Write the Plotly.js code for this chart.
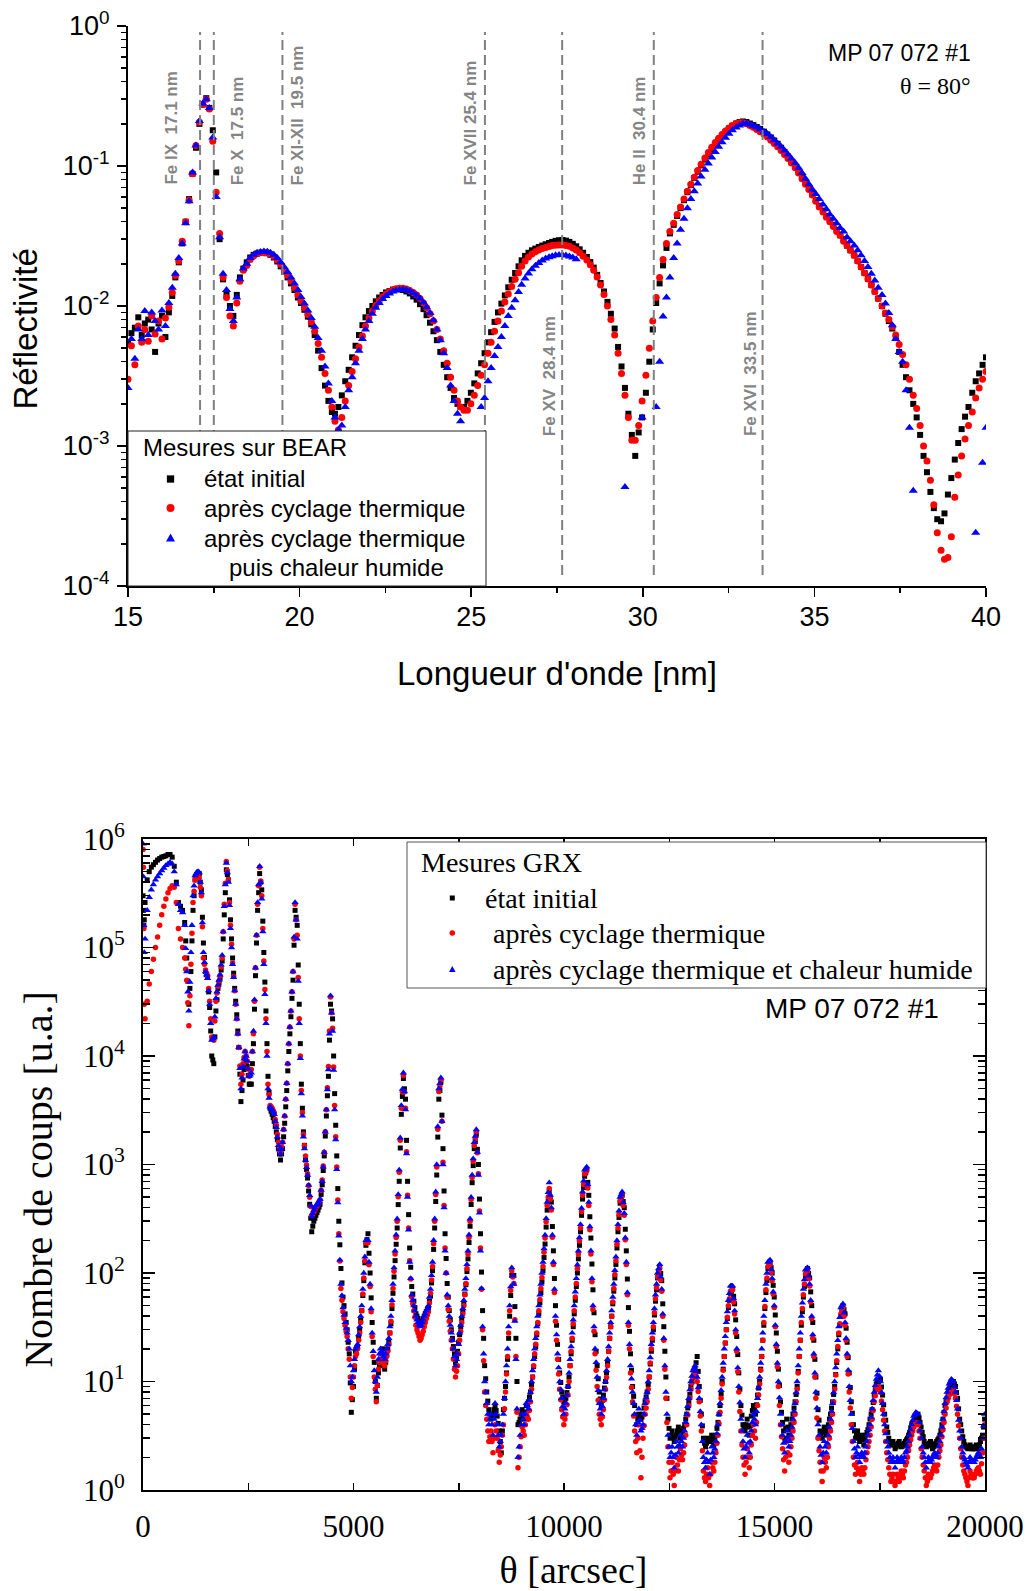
<!DOCTYPE html>
<html><head><meta charset="utf-8">
<script src="https://cdn.plot.ly/plotly-3.0.1.min.js"></script>
<style>html,body{margin:0;padding:0;background:#fff;}#chart{width:1034px;height:1591px;}</style>
</head><body><div id="chart"></div>
<script>
// ---------- Top chart: BEAR reflectivity (wavelength in nm) ----------
const wavelength = [
15.00,15.10,15.20,15.30,15.40,15.49,15.59,15.69,15.79,15.89,
15.99,16.09,16.19,16.29,16.38,16.48,16.58,16.68,16.78,16.88,
16.98,17.08,17.18,17.28,17.37,17.47,17.57,17.67,17.77,17.87,
17.97,18.07,18.17,18.26,18.36,18.46,18.56,18.66,18.76,18.86,
18.96,19.06,19.15,19.25,19.35,19.45,19.55,19.65,19.75,19.85,
19.95,20.04,20.14,20.24,20.34,20.44,20.54,20.64,20.74,20.84,
20.94,21.03,21.13,21.23,21.33,21.43,21.53,21.63,21.73,21.83,
21.92,22.02,22.12,22.22,22.32,22.42,22.52,22.62,22.72,22.81,
22.91,23.01,23.11,23.21,23.31,23.41,23.51,23.61,23.70,23.80,
23.90,24.00,24.10,24.20,24.30,24.40,24.50,24.60,24.69,24.79,
24.89,24.99,25.09,25.19,25.29,25.39,25.49,25.58,25.68,25.78,
25.88,25.98,26.08,26.18,26.28,26.38,26.47,26.57,26.67,26.77,
26.87,26.97,27.07,27.17,27.27,27.36,27.46,27.56,27.66,27.76,
27.86,27.96,28.06,28.16,28.26,28.37,28.47,28.57,28.67,28.77,
28.87,28.97,29.07,29.18,29.28,29.38,29.48,29.58,29.68,29.78,
29.88,29.98,30.09,30.19,30.29,30.39,30.49,30.59,30.69,30.79,
30.90,31.00,31.10,31.20,31.30,31.40,31.50,31.60,31.70,31.81,
31.91,32.01,32.11,32.21,32.31,32.41,32.51,32.61,32.72,32.82,
32.92,33.02,33.12,33.22,33.32,33.42,33.53,33.63,33.73,33.83,
33.93,34.03,34.13,34.23,34.33,34.44,34.54,34.64,34.74,34.84,
34.94,35.04,35.14,35.25,35.35,35.45,35.55,35.65,35.75,35.85,
35.95,36.05,36.16,36.26,36.36,36.46,36.56,36.66,36.76,36.86,
36.97,37.07,37.17,37.27,37.37,37.47,37.57,37.67,37.77,37.88,
37.98,38.08,38.18,38.28,38.38,38.48,38.58,38.69,38.79,38.89,
38.99,39.09,39.19,39.29,39.39,39.49,39.60,39.70,39.80,39.90,
40.00];

const reflInitial = [
0.0055,0.0064,0.0070,0.0083,0.0062,0.0075,0.0080,0.0068,0.0047,0.0075,
0.0085,0.0060,0.0090,0.0118,0.0160,0.0205,0.028,0.040,0.058,0.088,
0.135,0.200,0.275,0.305,0.260,0.180,0.090,0.030,0.0155,0.0123,
0.0100,0.0085,0.0120,0.0160,0.0185,0.0205,0.0222,0.0232,0.0237,0.0240,
0.0240,0.0238,0.0232,0.0222,0.0208,0.0192,0.0176,0.0160,0.0145,0.0130,
0.0115,0.0105,0.0094,0.0084,0.0074,0.0062,0.0048,0.0036,0.0027,0.0021,
0.00175,0.0017,0.0019,0.0023,0.0029,0.0035,0.0043,0.0052,0.0062,0.0073,
0.0083,0.0092,0.0100,0.0108,0.0115,0.0120,0.0125,0.0128,0.0131,0.0132,
0.0132,0.0130,0.0127,0.0123,0.0117,0.0111,0.0103,0.0095,0.0086,0.0076,
0.0066,0.0057,0.0047,0.0038,0.0031,0.0026,0.0022,0.0020,0.0019,0.0019,
0.0021,0.0024,0.0028,0.0033,0.0039,0.0046,0.0055,0.0065,0.0077,0.0090,
0.0104,0.0119,0.0136,0.0154,0.0172,0.0192,0.0212,0.0228,0.0240,0.0250,
0.0257,0.0264,0.0270,0.0276,0.0282,0.0287,0.0292,0.0295,0.0296,0.0293,
0.0287,0.0278,0.0267,0.0254,0.0240,0.0224,0.0206,0.0188,0.0167,0.0146,
0.0127,0.0107,0.0088,0.0069,0.0051,0.0037,0.0026,0.0017,0.0012,0.00085,
0.00125,0.0016,0.0024,0.0040,0.0068,0.0105,0.0145,0.0195,0.026,0.033,
0.038,0.044,0.050,0.057,0.065,0.073,0.082,0.091,0.101,0.111,
0.121,0.131,0.142,0.153,0.164,0.175,0.185,0.194,0.201,0.206,
0.208,0.206,0.201,0.196,0.190,0.184,0.176,0.168,0.160,0.152,
0.144,0.135,0.126,0.117,0.108,0.099,0.091,0.083,0.076,0.069,
0.063,0.057,0.052,0.048,0.044,0.041,0.038,0.035,0.032,0.030,
0.027,0.025,0.023,0.021,0.019,0.0172,0.0156,0.0141,0.0127,0.0113,
0.0100,0.0088,0.0078,0.0069,0.0059,0.0047,0.0038,0.0031,0.0025,0.0020,
0.0016,0.0012,0.00085,0.00065,0.00047,0.00036,0.00030,0.00029,0.00033,0.00045,
0.00059,0.00080,0.00105,0.00132,0.00162,0.0019,0.0024,0.0029,0.0033,0.0038,
0.0043];

const reflCycled = [
0.0030,0.0052,0.0038,0.0072,0.0055,0.0068,0.0056,0.0085,0.0063,0.0078,
0.0058,0.0082,0.0098,0.0125,0.0165,0.0210,0.029,0.040,0.057,0.088,
0.140,0.205,0.275,0.300,0.255,0.150,0.065,0.033,0.016,0.0115,
0.0085,0.0072,0.0105,0.0150,0.0180,0.0195,0.0215,0.0228,0.0236,0.0240,
0.0240,0.0240,0.0235,0.0226,0.0213,0.0198,0.0182,0.0166,0.0150,0.0135,
0.0120,0.0108,0.0097,0.0087,0.0077,0.0066,0.0054,0.0043,0.0033,0.0025,
0.0019,0.0015,0.0013,0.0016,0.0021,0.0027,0.0034,0.0042,0.0051,0.0061,
0.0072,0.0082,0.0092,0.0101,0.0109,0.0116,0.0122,0.0127,0.0130,0.0133,
0.0134,0.0134,0.0132,0.0129,0.0125,0.0120,0.0113,0.0105,0.0097,0.0088,
0.0078,0.0068,0.0058,0.0048,0.0039,0.0031,0.0025,0.0021,0.0019,0.0018,
0.0018,0.0020,0.0023,0.0027,0.0032,0.0038,0.0046,0.0055,0.0066,0.0078,
0.0092,0.0107,0.0122,0.0138,0.0155,0.0173,0.0192,0.0210,0.0224,0.0235,
0.0244,0.0251,0.0257,0.0262,0.0266,0.0270,0.0272,0.0273,0.0273,0.0271,
0.0267,0.0260,0.0251,0.0240,0.0227,0.0213,0.0197,0.0180,0.0161,0.0141,
0.0121,0.0100,0.0080,0.0062,0.0046,0.0033,0.0023,0.0016,0.0011,0.0011,
0.0014,0.0021,0.0032,0.0050,0.0078,0.0115,0.0160,0.0215,0.028,0.034,
0.039,0.045,0.051,0.058,0.066,0.074,0.083,0.093,0.103,0.114,
0.125,0.136,0.147,0.158,0.168,0.178,0.187,0.195,0.201,0.204,
0.204,0.200,0.195,0.189,0.182,0.176,0.169,0.161,0.153,0.145,
0.137,0.129,0.121,0.113,0.105,0.097,0.089,0.081,0.074,0.068,
0.062,0.056,0.051,0.047,0.043,0.040,0.037,0.034,0.032,0.029,
0.027,0.025,0.023,0.021,0.019,0.0172,0.0156,0.0141,0.0127,0.0113,
0.0100,0.0089,0.0080,0.0071,0.0062,0.0053,0.0045,0.0038,0.0030,0.0023,
0.00185,0.0014,0.0010,0.00078,0.00057,0.00038,0.00024,0.00018,0.000155,0.00016,
0.000225,0.00043,0.00062,0.00085,0.00112,0.0014,0.00175,0.0022,0.0026,0.0030,
0.0034];

const reflCycledHumid = [
0.0026,0.0058,0.0042,0.0068,0.0058,0.0092,0.0062,0.0090,0.0078,0.0068,
0.0093,0.0072,0.0105,0.0135,0.0170,0.0220,0.028,0.039,0.056,0.090,
0.140,0.210,0.280,0.300,0.260,0.160,0.060,0.031,0.017,0.013,
0.0095,0.0078,0.0115,0.0155,0.0185,0.0200,0.0220,0.0232,0.0240,0.0243,
0.0245,0.0244,0.0240,0.0232,0.0220,0.0205,0.0190,0.0175,0.0160,0.0145,
0.0130,0.0116,0.0104,0.0093,0.0082,0.0071,0.0059,0.0048,0.0037,0.0028,
0.0021,0.0016,0.0013,0.0014,0.0019,0.0025,0.0031,0.0039,0.0048,0.0058,
0.0068,0.0078,0.0088,0.0097,0.0105,0.0112,0.0118,0.0123,0.0127,0.0129,
0.0130,0.0131,0.0130,0.0128,0.0124,0.0119,0.0113,0.0106,0.0098,0.0089,
0.0079,0.0068,0.0057,0.0046,0.0036,0.0027,0.0021,0.0017,0.0015,null,
null,null,null,null,0.0019,0.0022,0.0029,0.0036,0.0044,0.0051,
0.0060,0.0072,0.0085,0.0097,0.0110,0.0126,0.0142,0.0157,0.0171,0.0183,
0.0194,0.0203,0.0211,0.0218,0.0223,0.0227,0.0230,0.0231,0.0231,0.0229,
0.0226,0.0222,0.0216,null,null,null,null,null,null,null,
null,null,null,null,null,null,0.00051,null,null,null,
null,0.0016,null,null,null,0.0019,0.0040,0.0084,0.0115,0.0160,
0.022,0.028,0.035,0.042,0.050,0.058,0.066,0.075,0.084,0.094,
0.104,0.115,0.126,0.137,0.148,0.159,0.170,0.180,0.188,0.195,
0.200,0.201,0.198,0.194,0.189,0.183,0.176,0.169,0.161,0.153,
0.145,0.137,0.129,0.121,0.113,0.105,0.097,0.089,0.081,0.074,
0.068,0.063,0.058,0.053,0.049,0.045,0.042,0.039,0.036,0.034,
0.031,0.029,0.027,0.025,0.023,0.021,0.019,0.017,0.0152,0.0135,
0.0120,0.0104,0.0089,0.0073,0.0058,0.0047,0.0040,0.0025,0.00135,0.00048,
null,null,null,null,null,null,null,null,null,null,
null,null,null,null,null,null,null,0.00024,null,0.00076,
0.00135];

const bearNames = ['état initial', 'après cyclage thermique', 'après cyclage thermique puis chaleur humide'];
const emissionLines = [17.1, 17.5, 19.5, 25.4, 27.65, 30.32, 33.49];
const emissionLabels = ['Fe IX\u00a0\u00a017.1 nm', 'Fe X\u00a0\u00a017.5 nm', 'Fe XI-XII\u00a0\u00a019.5 nm',
  'Fe XVII 25.4 nm', 'Fe XV\u00a0\u00a028.4 nm', 'He II\u00a0\u00a030.4 nm', 'Fe XVI\u00a0\u00a033.5 nm'];
const topYTickVals = [1e-4, 1e-3, 1e-2, 1e-1, 1];
const topYTickText = ['10<sup>-4</sup>', '10<sup>-3</sup>', '10<sup>-2</sup>', '10<sup>-1</sup>', '10<sup>0</sup>'];

// ---------- Bottom chart: GRX counts vs theta (arcsec) ----------
const theta = [
0,10,20,30,49,99,148,198,247,297,346,396,445,495,544,594,643,693,742,792,841,891,940,
990,1039,1089,1138,1188,1237,1287,1336,1386,1435,1485,1534,1583,1633,1682,1732,1781,1831,1880,1930,
1979,2029,2078,2128,2177,2227,2276,2326,2375,2425,2474,2524,2573,2623,2672,2722,2771,2821,2870,2920,
2969,3018,3068,3117,3167,3216,3266,3315,3365,3414,3464,3513,3563,3612,3662,3711,3761,3810,3860,3909,
3959,4008,4058,4107,4157,4206,4256,4305,4355,4404,4454,4503,4552,4602,4651,4701,4750,4800,4849,4899,
4948,4998,5047,5097,5146,5196,5245,5295,5344,5394,5443,5493,5542,5592,5641,5691,5740,5790,5839,5889,
5938,5988,6037,6086,6136,6185,6235,6284,6334,6383,6433,6482,6532,6581,6631,6680,6730,6779,6829,6878,
6928,6977,7027,7076,7126,7175,7225,7274,7324,7373,7423,7472,7521,7571,7620,7670,7719,7769,7818,7868,
7917,7967,8016,8066,8115,8165,8214,8264,8313,8363,8412,8462,8511,8561,8610,8660,8709,8759,8808,8858,
8907,8957,9006,9055,9105,9154,9204,9253,9303,9352,9402,9451,9501,9550,9600,9649,9699,9748,9798,9847,
9897,9946,9996,10045,10095,10144,10194,10243,10293,10342,10392,10441,10491,10540,10589,10639,10688,10738,10787,10837,
10886,10936,10985,11035,11084,11134,11183,11233,11282,11332,11381,11431,11480,11530,11579,11629,11678,11728,11777,11827,
11876,11926,11975,12024,12074,12123,12173,12222,12272,12321,12371,12420,12470,12519,12569,12618,12668,12717,12767,12816,
12866,12915,12965,13014,13064,13113,13163,13212,13262,13311,13361,13410,13460,13509,13558,13608,13657,13707,13756,13806,
13855,13905,13954,14004,14053,14103,14152,14202,14251,14301,14350,14400,14449,14499,14548,14598,14647,14697,14746,14796,
14845,14895,14944,14994,15043,15092,15142,15191,15241,15290,15340,15389,15439,15488,15538,15587,15637,15686,15736,15785,
15835,15884,15934,15983,16033,16082,16132,16181,16231,16280,16330,16379,16429,16478,16527,16577,16626,16676,16725,16775,
16824,16874,16923,16973,17022,17072,17121,17171,17220,17270,17319,17369,17418,17468,17517,17567,17616,17666,17715,17765,
17814,17864,17913,17963,18012,18061,18111,18160,18210,18259,18309,18358,18408,18457,18507,18556,18606,18655,18705,18754,
18804,18853,18903,18952,19002,19051,19101,19150,19200,19249,19299,19348,19398,19447,19497,19546,19595,19645,19694,19744,
19793,19843,19892,19942,19991];

const countsInitial = [
3.0e5,2.2e5,1.6e5,1.8e5,2.6e5,4.2e5,5.0e5,5.5e5,5.8e5,6.1e5,6.4e5,6.6e5,6.8e5,6.9e5,7.0e5,7.2e5,7.2e5,6.8e5,5.6e5,4.0e5,2.6e5,2.4e5,2.2e5,
1.7e5,8.0e4,3.0e4,6.0e4,2.2e5,4.2e5,4.7e5,4.8e5,3.4e5,1.1e5,6.0e4,5.3e4,2.8e4,1.0e4,8.5e3,2.6e4,4.2e4,5.2e4,7.5e4,2.0e5,
5.2e5,4.2e5,1.8e5,8.0e4,4.2e4,2.4e4,1.2e4,3.8e3,6.0e3,9.5e3,8.0e3,5.5e3,5.5e3,1.3e4,5.5e4,2.2e5,4.8e5,3.4e5,9.0e4,2.6e4,
6.5e3,3.3e3,2.9e3,2.5e3,2.0e3,1.4e3,1.1e3,1.4e3,2.4e3,4.8e3,1.1e4,2.3e4,5.0e4,2.2e5,1.6e5,3.0e4,5.5e3,2.0e3,1.1e3,750,
430,240,300,340,380,430,650,1200,2800,6500,3.0e4,2.2e4,4500,1200,300,110,60,42,30,18,
5.2,9,19,21,30,45,85,180,230,100,35,15,7,12,16,20,13,18,23,34,
65,130,260,700,2900,6200,4000,700,170,75,55,42,38,33,36,40,44,48,62,105,
260,800,4000,5800,1400,230,80,45,30,21,15,19,27,38,52,78,135,270,680,1400,
1900,1000,230,45,14,8,5.5,4.5,5,6,4.8,3.5,2.2,5.5,9,16,40,95,95,25,
4,4.5,5.5,4.5,6,6.5,8,11,17,27,42,66,105,185,380,560,450,160,50,22,
12,8,6.5,7,9,14,24,42,75,135,240,480,780,900,520,210,70,27,14,8,
6,7.5,10,15,25,40,68,120,240,440,520,400,160,48,18,9,6,4,5,4.5,
5,6.5,8,11,19,30,55,90,115,85,32,11,4.5,3,3.5,2.8,3.2,3.8,3,3.5,
4,5,6.5,9,11,13,17,9,5,3,2.5,3,2.8,3.2,2.6,3.2,4.2,6,10,17,
30,48,65,72,52,26,12,6,4,3.5,4.5,3.2,4.8,6,5,7.5,10,17,33,66,
110,125,100,60,28,13,6.5,4.2,3,4.5,3.2,4,5,6.5,9,17,33,60,95,110,
90,50,24,11,5.5,3.5,3,3.8,3.2,4,5,6.5,9,15,27,40,50,42,23,12,
6.5,4,3,3.5,2.8,3.2,2.6,3.2,3.6,4.5,5.5,7.5,9.5,10,10.5,7.5,5,3.8,3,2.6,
2.8,2.4,2.6,2.8,2.5,2.6,2.8,3,3.4,4,4.2,4.6,5,4.2,3.4,2.8,2.5,2.6,2.8,2.4,
2.6,2.8,3,3.5,4.5,6,7,8.5,9.5,10,9,7,4.5,3.5,2.8,2.5,2.4,2.6,2.4,2.4,
2.6,2.4,2.8,3.2,4.5];

const countsCycled = [
8.0e5,5.5e5,1.5e5,3.0e4,2.2e4,3.2e4,4.6e4,6.0e4,7.8e4,1.0e5,1.25e5,1.6e5,2.0e5,2.4e5,2.8e5,3.2e5,3.5e5,3.7e5,3.6e5,2.6e5,1.5e5,1.2e5,1.0e5,
8.0e4,5.0e4,1.9e4,7.0e4,2.6e5,4.2e5,4.6e5,4.4e5,3.0e5,8.0e4,6.2e4,5.5e4,3.2e4,1.5e4,1.4e4,3.2e4,4.4e4,5.5e4,8.0e4,2.5e5,
6.2e5,4.2e5,1.6e5,7.2e4,4.0e4,2.2e4,1.2e4,5.5e3,8.5e3,1.1e4,9.0e3,6.5e3,7.5e3,1.6e4,6.5e4,2.5e5,5.5e5,3.0e5,7.5e4,2.2e4,
5.5e3,3.5e3,3.3e3,3.0e3,2.3e3,1.6e3,1.3e3,1.6e3,2.8e3,5.6e3,1.3e4,2.6e4,6.0e4,2.5e5,1.3e5,2.2e4,4.8e3,1.9e3,1.2e3,820,
500,340,360,400,430,470,720,1300,3200,8000,3.5e4,1.8e4,3500,950,230,72,44,33,26,16,
7,11,17,20,28,45,90,190,190,75,26,11,6.5,13,18,15,14,17,22,36,
72,150,300,850,3300,6600,3300,520,130,60,45,33,28,24,27,32,38,44,65,115,
300,950,4700,6000,1050,170,60,36,24,16,11,14,24,35,50,80,150,300,760,1500,
2000,820,170,30,8,4.5,2.8,3.5,2.2,4,3,1.8,2.5,4,8,17,45,105,80,17,
1.6,2.5,3.8,3.2,5,4.5,6.5,11,18,28,45,72,115,210,420,600,380,120,36,16,
8.5,5.5,4,5,7.5,14,25,45,80,150,260,520,820,880,420,150,46,18,9,5,
4,5.5,8.5,14,25,40,72,130,260,460,520,340,120,33,12,6.5,3.5,2.2,4,1.3,
3,5,6.5,11,20,32,58,92,110,68,24,7,2.5,1.3,1.8,1.1,2,1.5,2.4,1.9,
2.6,4,6,8.5,11,12.5,10,6.5,3.5,1.5,1.2,1.6,1.1,1.8,1.5,2.2,3.2,5.2,9.5,17,
30,50,68,70,42,19,8,3.5,2,1.4,2.4,1.6,2.6,4,3,6,9.5,17,35,70,
115,120,85,48,21,9,4,2.4,1.5,2.8,1.8,2.5,3.5,5,8.5,17,35,63,98,105,
76,38,17,7,3,1.8,1.2,2,1.6,2.5,3.5,5,8.5,15.5,28,42,48,33,17,8,
4,2,1.4,1.8,1.2,1.6,1.4,1.9,2.5,3.2,4.5,6.5,8.5,9,8,5.5,3.5,2.2,1.6,1.2,
1.4,1.1,1.4,1.2,1.5,1.3,1.7,2,2.6,3.2,3.8,4.2,4,3,2,1.5,1.1,1.4,1.3,1.5,
1.7,1.5,2,2.6,3.6,5,6.5,7.5,8,8.5,7,5,3,2,1.5,1.3,1.1,1.5,1.3,1.3,
1.5,1.6,1.4,2.2,4.0];

const countsCycledHumid = [
9.0e5,4.5e5,1.6e5,9.0e4,1.2e5,2.2e5,2.9e5,3.4e5,3.8e5,4.2e5,4.5e5,4.8e5,5.1e5,5.4e5,5.7e5,5.9e5,6.1e5,5.9e5,5.0e5,3.8e5,2.5e5,2.2e5,2.1e5,
1.6e5,6.0e4,2.6e4,9.0e4,3.0e5,4.6e5,5.0e5,4.9e5,3.2e5,9.0e4,6.0e4,5.2e4,3.0e4,1.4e4,1.5e4,3.4e4,4.5e4,5.6e4,8.5e4,2.4e5,
6.0e5,4.0e5,1.5e5,7.0e4,4.0e4,2.2e4,1.2e4,5.0e3,8.0e3,1.1e4,9.0e3,6.5e3,7.0e3,1.7e4,6.5e4,2.6e5,5.6e5,2.8e5,7.0e4,2.0e4,
5.0e3,3.4e3,3.2e3,2.9e3,2.2e3,1.5e3,1.25e3,1.6e3,2.8e3,5.6e3,1.3e4,2.6e4,6.0e4,2.6e5,1.2e5,2.0e4,4.5e3,1.8e3,1.1e3,800,
520,330,380,420,440,480,700,1300,3200,7500,3.6e4,1.7e4,3200,900,220,79,48,35,28,20,
10,12.6,20,22,32,50,100,200,200,79,28,12.6,8,16,20,18,16,20,25,40,
79,160,316,890,3500,7000,3200,500,126,63,50,40,35,32,35,40,45,50,71,126,
316,1000,5000,6300,1000,160,63,40,28,20,14,18,28,40,56,89,160,316,800,1600,
2100,800,160,32,10,6.3,4,5,3.2,6.3,4,2.5,3.2,5,10,20,50,112,79,16,
2,3.2,5,4,6.3,5.6,8,12.6,20,32,50,79,126,224,450,680,400,126,40,18,
10,7,5,6.3,9,16,28,50,89,160,280,560,890,950,450,160,50,20,11,6.3,
5,7,10,16,28,45,79,141,280,500,560,355,126,35,14,8,5,3.2,5.6,3.5,
4,6.3,8,12.6,22,35,63,100,120,71,25,8,3.2,2,2.5,1.6,2.8,2.2,3.2,2.5,
3.5,5,7,10,12.6,14,11,7,4,2,1.6,2.2,1.4,2.5,2,2.8,4,6.3,11,20,
35,56,76,76,45,20,9,4.5,2.8,2,3.2,2.2,3.5,5,4,7,11,20,40,79,
126,132,89,50,22,10,5,3.2,2.2,3.5,2.5,3.2,4.5,6.3,10,20,40,71,107,112,
79,40,18,8,4,2.5,1.8,2.8,2.2,3.2,4.5,6.3,10,18,32,48,52,35,18,9,
5,2.8,2,2.5,1.8,2.2,2,2.5,3.2,4,5.6,8,10.5,12.6,10,6.3,4,2.8,2.2,1.8,
2,1.6,2,1.8,2,1.8,2.2,2.5,3.2,4,4.8,5.2,5,3.5,2.5,2,1.6,2,1.8,2,
2.2,2,2.5,3.2,4.5,6.3,8,9.5,10.5,10,8,5.6,3.5,2.5,2,1.8,1.6,2,1.8,1.8,
2.0,2.2,2.0,3.0,5.0];

// second, interleaved set of GRX samples (between the points above)
const thetaMid = [
1015,1064,1114,1163,1213,1262,1312,1361,1411,1460,1510,1559,1608,1658,1707,1757,1806,1856,1905,1955,
2004,2054,2103,2153,2202,2252,2301,2351,2400,2450,2499,2549,2598,2648,2697,2747,2796,2846,2895,2945,
2994,3043,3093,3142,3192,3241,3291,3340,3390,3439,3489,3538,3588,3637,3687,3736,3786,3835,3885,3934,
3984,4033,4083,4132,4182,4231,4281,4330,4380,4429,4479,4528,4577,4627,4676,4726,4775,4825,4874,4924,
4973,5023,5072,5122,5171,5221,5270,5320,5369,5419,5468,5518,5567,5617,5666,5716,5765,5815,5864,5914,
5963,6013,6062,6111,6161,6210,6260,6309,6359,6408,6458,6507,6557,6606,6656,6705,6755,6804,6854,6903,
6953,7002,7052,7101,7151,7200,7250,7299,7349,7398,7448,7497,7546,7596,7645,7695,7744,7794,7843,7893,
7942,7992,8041,8091,8140,8190,8239,8289,8338,8388,8437,8487,8536,8586,8635,8685,8734,8784,8833,8883,
8932,8982,9031,9080,9130,9179,9229,9278,9328,9377,9427,9476,9526,9575,9625,9674,9724,9773,9823,9872,
9922,9971,10021,10070,10120,10169,10219,10268,10318,10367,10417,10466,10516,10565,10614,10664,10713,10763,10812,10862,
10911,10961,11010,11060,11109,11159,11208,11258,11307,11357,11406,11456,11505,11555,11604,11654,11703,11753,11802,11852,
11901,11951,12000,12049,12099,12148,12198,12247,12297,12346,12396,12445,12495,12544,12594,12643,12693,12742,12792,12841,
12891,12940,12990,13039,13089,13138,13188,13237,13287,13336,13386,13435,13485,13534,13583,13633,13682,13732,13781,13831,
13880,13930,13979,14029,14078,14128,14177,14227,14276,14326,14375,14425,14474,14524,14573,14623,14672,14722,14771,14821,
14870,14920,14969,15019,15068,15117,15167,15216,15266,15315,15365,15414,15464,15513,15563,15612,15662,15711,15761,15810,
15860,15909,15959,16008,16058,16107,16157,16206,16256,16305,16355,16404,16454,16503,16552,16602,16651,16701,16750,16800,
16849,16899,16948,16998,17047,17097,17146,17196,17245,17295,17344,17394,17443,17493,17542,17592,17641,17691,17740,17790,
17839,17889,17938,17988,18037,18086,18136,18185,18235,18284,18334,18383,18433,18482,18532,18581,18631,18680,18730,18779,
18829,18878,18928,18977,19027,19076,19126,19175,19225,19274,19324,19373,19423,19472,19522,19571,19620,19670,19719,19769,
19818,19868,19917,19967];

const countsInitialMid = [
1.15e5,4.9e4,4.2e4,1.15e5,3.0e5,4.45e5,4.75e5,4.0e5,1.9e5,8.1e4,5.6e4,3.9e4,1.7e4,9.2e3,1.5e4,3.3e4,4.7e4,6.2e4,1.2e5,3.2e5,
4.7e5,2.75e5,1.2e5,5.8e4,3.2e4,1.7e4,6.8e3,4.8e3,7.5e3,8.7e3,6.6e3,5.5e3,8.5e3,2.7e4,1.1e5,3.2e5,4.0e5,1.75e5,4.8e4,1.3e4,
4.6e3,3.1e3,2.7e3,2.25e3,1.7e3,1.25e3,1.25e3,1.8e3,3.4e3,7.3e3,1.6e4,3.4e4,1.05e5,1.9e5,6.9e4,1.3e4,3.3e3,1.5e3,900,570,
320,270,320,360,405,530,880,1830,4300,1.4e4,2.6e4,1.0e4,2300,600,182,81,50,35,23,9.7,
6.8,13,20,25,37,62,124,203,152,59,23,10,9.2,14,18,16,15,20,28,47,
92,184,427,1420,4240,4980,1670,345,113,64,48,40,35,34,38,42,46,55,81,165,
456,1790,4800,2850,570,136,60,37,25,18,17,23,32,44,64,103,191,428,976,1630,
1380,480,102,25,10.6,6.6,5,4.7,5.5,5.4,4.1,2.8,3.5,7,12,25,62,95,49,10,
4.2,5,5,5.2,6.2,7.2,9.4,13.7,21,34,53,83,139,265,461,502,268,89,33,16,
9.8,7.2,6.7,7.9,11,18,32,56,100,180,340,612,838,684,330,121,43,19,10.6,6.9,
6.7,8.7,12,19,32,52,90,170,325,478,456,253,88,29,12.7,7.3,4.9,4.5,4.7,4.7,
5.7,7.2,9.4,14.5,24,41,70,102,99,52,19,7,3.7,3.2,3.1,3,3.5,3.4,3.2,3.7,
4.5,5.7,7.6,10,12,14.9,12.4,6.7,3.9,2.7,2.7,2.9,3,2.9,2.9,3.7,5,7.7,13,22.6,
38,56,68,61,37,17.7,8.5,4.9,3.7,4,3.8,3.9,5.4,5.5,6.1,8.7,13,24,47,85,
117,112,77,41,19,9.2,5.2,3.5,3.7,3.8,3.6,4.5,5.7,7.6,12.4,24,44,75,102,99,
67,35,16,7.8,4.4,3.2,3.4,3.5,3.6,4.5,5.7,7.6,11.6,20,33,45,46,31,16.6,8.8,
5.1,3.5,3.2,3.1,3,2.9,2.9,3.4,4,5,6.4,8.4,9.7,10.2,8.9,6.1,4.4,3.4,2.8,2.7,
2.6,2.5,2.7,2.6,2.55,2.7,2.9,3.2,3.7,4.1,4.4,4.8,4.6,3.8,3.1,2.6,2.55,2.7,2.6,2.5,
2.7,2.9,3.2,4,5.2,6.5,7.7,9,9.7,9.5,7.9,5.6,4,3.1,2.6,2.45,2.5,2.5,2.4,2.5,
2.5,2.6,3.0,3.8];

const countsCycledMid = [
6.3e4,3.1e4,3.6e4,1.35e5,3.3e5,4.4e5,4.5e5,3.6e5,1.55e5,7.0e4,5.8e4,4.2e4,2.2e4,1.45e4,2.1e4,3.8e4,4.9e4,6.6e4,1.4e5,3.9e5,
5.1e5,2.6e5,1.07e5,5.4e4,3.0e4,1.6e4,8.1e3,6.8e3,9.7e3,1.0e4,7.6e3,7.0e3,1.1e4,3.2e4,1.3e5,3.7e5,4.1e5,1.5e5,4.1e4,1.1e4,
4.4e3,3.4e3,3.15e3,2.6e3,1.9e3,1.45e3,1.45e3,2.1e3,4.0e3,8.5e3,1.85e4,3.9e4,1.2e5,1.8e5,5.3e4,1.0e4,3.0e3,1.5e3,990,640,
410,350,380,415,450,580,970,2000,5100,1.7e4,2.5e4,7.9e3,1.8e3,470,129,56,38,29,20,11,
8.8,14,18,24,35,64,130,190,119,44,17,8.5,9.2,15,16,14.5,15.5,19,28,51,
104,212,505,1670,4670,4670,1310,260,88,52,39,30,26,25,29,35,41,53,86,186,
530,2110,5300,2500,420,100,46,29,20,13,12.4,18,29,42,63,110,212,477,1070,1730,
1280,373,71,15.5,6,3.5,3.1,2.8,3,3.5,2.3,2.1,3.2,5.6,11.7,28,69,92,37,5.2,
2,3.1,3.5,4,4.7,5.4,8.5,14,22,35,57,91,155,297,502,478,214,66,24,11.7,
6.8,4.7,4.5,6.1,10,19,34,60,110,197,368,653,849,608,251,83,29,12.7,6.7,4.5,
4.7,6.8,10.9,19,32,54,97,184,346,489,420,202,63,20,8.8,4.8,2.8,3,2.3,2,
3.9,5.7,8.5,14.8,25,43,73,101,86,40,13,4.2,1.8,1.5,1.4,1.5,1.7,1.9,2.1,2.2,
3.2,4.9,7.1,9.7,11.7,11.2,8.1,4.8,2.3,1.3,1.4,1.3,1.4,1.6,1.8,2.7,4.1,7,12.7,22.6,
39,58,69,54,28,12.3,5.3,2.6,1.7,1.8,2,2,3.2,3.5,4.2,7.5,12.7,24,49,90,
117,101,64,32,13.7,6,3.1,1.9,2,2.2,2.1,3,4.2,6.5,12,24,47,79,101,89,
54,25,11,4.6,2.3,1.5,1.5,1.8,2,3,4.2,6.5,11.5,21,34,45,40,24,11.7,5.7,
2.8,1.7,1.6,1.5,1.4,1.5,1.6,2.2,2.8,3.8,5.4,7.4,8.7,8.5,6.6,4.4,2.8,1.9,1.4,1.3,
1.2,1.2,1.3,1.3,1.4,1.5,1.8,2.3,2.9,3.5,4,4.1,3.5,2.4,1.7,1.3,1.2,1.35,1.4,1.6,
1.6,1.7,2.3,3.1,4.2,5.7,7,7.7,8.2,7.7,5.9,3.9,2.4,1.7,1.4,1.2,1.3,1.4,1.3,1.4,
1.55,1.5,1.75,3.0];

const countsCycledHumidMid = [
9.8e4,3.9e4,4.8e4,1.6e5,3.7e5,4.8e5,5.0e5,4.0e5,1.7e5,7.3e4,5.6e4,4.0e4,2.0e4,1.45e4,2.3e4,3.9e4,5.0e4,6.9e4,1.4e5,3.8e5,
4.9e5,2.45e5,1.0e5,5.3e4,3.0e4,1.6e4,7.7e3,6.3e3,9.4e3,1.0e4,7.6e3,6.7e3,1.1e4,3.3e4,1.3e5,3.8e5,4.0e5,1.4e5,3.7e4,1.0e4,
4.1e3,3.3e3,3.05e3,2.5e3,1.8e3,1.37e3,1.4e3,2.1e3,4.0e3,8.5e3,1.85e4,3.9e4,1.25e5,1.8e5,4.9e4,9.5e3,2.8e3,1.4e3,940,645,
415,355,400,430,460,580,950,2000,4900,1.6e4,2.5e4,7.4e3,1.7e3,445,132,62,41,31,24,14,
11,16,21,27,40,71,141,200,126,47,19,10,11,18,19,17,18,22,32,56,
112,225,530,1760,4950,4700,1260,250,89,56,45,37,33,33,37,42,47,60,95,200,
560,2240,5600,2500,400,100,50,33,24,17,16,22,33,47,71,120,225,500,1130,1830,
1300,358,72,18,8,5,4.5,4,4.5,5,3.2,2.8,4,7,14,32,75,94,36,5.6,
2.5,4,4.5,5,6,6.7,10,16,25,40,63,100,168,318,553,522,224,71,27,13.4,
8.4,5.9,5.6,7.5,12,21,37,67,119,212,396,706,920,654,268,89,32,15,8.3,5.6,
5.9,8.4,12.6,21,35,60,106,199,374,529,446,211,66,22,10.6,6.3,4,4.2,4.4,3.7,
5,7.1,10,16.6,28,47,79,110,92,42,14,5,2.5,2.2,2,2.1,2.5,2.6,2.8,3,
4.2,5.9,8.4,11.2,13.3,12.4,8.8,5.3,2.8,1.8,1.9,1.8,1.9,2.2,2.4,3.3,5,8.3,14.8,26,
44,65,76,58,30,13.4,6.4,3.5,2.4,2.5,2.7,2.8,4.2,4.5,5.3,8.8,14.8,28,56,100,
129,108,67,33,14.8,7.1,4,2.7,2.8,3,2.8,3.8,5.3,7.9,14,28,53,87,110,94,
56,27,12,5.7,3.2,2.1,2.2,2.5,2.7,3.8,5.3,7.9,13.4,24,39,50,43,25,12.7,6.7,
3.7,2.4,2.2,2.1,2,2.1,2.2,2.8,3.6,4.7,6.7,9.2,11.5,11.2,7.9,5,3.3,2.5,2,1.9,
1.8,1.8,1.9,1.9,1.9,2,2.3,2.8,3.6,4.4,5,5.1,4.2,3,2.2,1.8,1.8,1.9,1.9,2.1,
2.1,2.2,2.8,3.8,5.3,7.1,8.7,10,10.2,8.9,6.7,4.4,3,2.2,1.9,1.7,1.8,1.9,1.8,1.9,
2.1,2.1,2.4,3.9];

const grxNames = ['état initial', 'après cyclage thermique', 'après cyclage thermique et chaleur humide'];
const botXTickVals = [0, 5000, 10000, 15000, 20000];
const botXTickText = ['0', '5000', '10000', '15000', '20000'];
const botYTickVals = [1, 10, 100, 1e3, 1e4, 1e5, 1e6];
const botYTickText = ['10<sup>0</sup>', '10<sup>1</sup>', '10<sup>2</sup>', '10<sup>3</sup>', '10<sup>4</sup>', '10<sup>5</sup>', '10<sup>6</sup>'];

// ---------- styling ----------
const SANS = 'Liberation Sans, Arial, sans-serif';
const SERIF = 'Liberation Serif, Times New Roman, serif';
const W = 1034, H = 1591;
const px = v => v / W, py = v => 1 - v / H;
const NB = '\u00a0', ZW = '\u200b';

const colors = ['#000000', '#ff0000', '#0000ff'];
const symbols = ['square', 'circle', 'triangle-up'];
const topSizes = [6, 7, 8];
const botSizes = [5, 5.5, 6.5];
const topSeries = [reflInitial, reflCycled, reflCycledHumid];
const botSeries = [countsInitial, countsCycled, countsCycledHumid];
const botSeriesMid = [countsInitialMid, countsCycledMid, countsCycledHumidMid];

const traces = [];
topSeries.forEach((ys, i) => traces.push({
  type: 'scatter', mode: 'markers', x: wavelength, y: ys, name: bearNames[i],
  xaxis: 'x', yaxis: 'y', showlegend: false,
  marker: {symbol: symbols[i], size: topSizes[i], color: colors[i], line: {width: 0}}
}));
botSeries.forEach((ys, i) => traces.push({
  type: 'scatter', mode: 'markers', x: theta.concat(thetaMid), y: ys.concat(botSeriesMid[i]), name: grxNames[i],
  xaxis: 'x2', yaxis: 'y2', showlegend: false,
  marker: {symbol: symbols[i], size: botSizes[i], color: colors[i], line: {width: 0}}
}));

const topXDom = [px(128), px(986)], topYDom = [py(586), py(26)];
const botXDom = [px(143), px(985)], botYDom = [py(1490), py(839)];

const labelShift = [-29, 24, 16, -14, -12, -14, -12];
const labelBottomPx = [187, 187, 187, 187, 438, 187, 438];

const shapes = emissionLines.map(w => ({
  type: 'line', xref: 'x', yref: 'paper', x0: w, x1: w, y0: py(575), y1: py(32),
  line: {color: '#808080', width: 2, dash: '10px,5px'}, layer: 'above'
}));

const annotations = emissionLabels.map((t, i) => ({
  text: '<b>' + t + '</b>', xref: 'x', yref: 'paper', x: emissionLines[i], y: py(labelBottomPx[i]),
  xanchor: 'center', yanchor: 'bottom', xshift: labelShift[i], textangle: -90, showarrow: false,
  font: {family: SANS, size: 17, color: '#858585'}
}));
annotations.push(
  {text: 'MP 07 072 #1', xref: 'paper', yref: 'paper', x: px(973), y: py(53), xanchor: 'right', yanchor: 'middle',
   showarrow: false, font: {family: SANS, size: 23, color: '#000'}},
  {text: 'θ = 80°', xref: 'paper', yref: 'paper', x: px(973), y: py(86), xanchor: 'right', yanchor: 'middle',
   showarrow: false, font: {family: SERIF, size: 24, color: '#000'}},
  {text: 'MP 07 072 #1', xref: 'paper', yref: 'paper', x: px(941), y: py(1008), xanchor: 'right', yanchor: 'middle',
   showarrow: false, font: {family: SANS, size: 28, color: '#000'}}
);

// ---------- hand-built legends (boxes, symbols, texts) ----------
function addLegend(cfg) {
  shapes.push({type: 'rect', xref: 'paper', yref: 'paper', x0: px(cfg.box[0]), x1: px(cfg.box[1]),
    y0: py(cfg.box[3]), y1: py(cfg.box[2]), fillcolor: '#fff', line: {color: cfg.border, width: 1}, layer: 'above'});
  annotations.push({text: cfg.title, xref: 'paper', yref: 'paper', x: px(cfg.titlePos[0]), y: py(cfg.titlePos[1]),
    xanchor: 'left', yanchor: 'middle', showarrow: false, borderpad: 0, font: {family: cfg.font, size: cfg.size, color: '#000'}});
  cfg.rows.forEach((r, i) => {
    const cx = cfg.markerX, cy = r.y, s = cfg.msize[i] / 2;
    if (i === 0) {
      shapes.push({type: 'rect', xref: 'paper', yref: 'paper', x0: px(cx - s), x1: px(cx + s), y0: py(cy + s), y1: py(cy - s),
        fillcolor: colors[0], line: {width: 0}, layer: 'above'});
    } else if (i === 1) {
      shapes.push({type: 'circle', xref: 'paper', yref: 'paper', x0: px(cx - s), x1: px(cx + s), y0: py(cy + s), y1: py(cy - s),
        fillcolor: colors[1], line: {width: 0}, layer: 'above'});
    } else {
      const h = s * 1.8;
      shapes.push({type: 'path', xref: 'paper', yref: 'paper',
        path: 'M ' + px(cx - s) + ' ' + py(cy + h / 2) + ' L ' + px(cx + s) + ' ' + py(cy + h / 2) +
              ' L ' + px(cx) + ' ' + py(cy - h / 2) + ' Z',
        fillcolor: colors[2], line: {width: 0}, layer: 'above'});
    }
    r.lines.forEach(l => annotations.push({text: l.t, xref: 'paper', yref: 'paper', x: px(l.x), y: py(l.y),
      xanchor: 'left', yanchor: 'middle', showarrow: false, borderpad: 0,
      font: {family: cfg.font, size: cfg.size, color: '#000'}}));
  });
}
addLegend({
  box: [128, 486, 431, 586], border: '#222', font: SANS, size: 24,
  title: 'Mesures sur BEAR', titlePos: [142, 447], markerX: 170.5, msize: [7.3, 8, 9],
  rows: [
    {y: 479, lines: [{t: bearNames[0], x: 203, y: 479}]},
    {y: 508, lines: [{t: bearNames[1], x: 203, y: 508}]},
    {y: 537.5, lines: [{t: 'après cyclage thermique', x: 203, y: 538}, {t: 'puis chaleur humide', x: 228, y: 567}]}
  ]
});
addLegend({
  box: [407, 986, 842, 988], border: '#555', font: SERIF, size: 28,
  title: 'Mesures GRX', titlePos: [420, 862], markerX: 452.3, msize: [5, 5.6, 6.6],
  rows: [
    {y: 898, lines: [{t: grxNames[0], x: 484, y: 898}]},
    {y: 933, lines: [{t: grxNames[1], x: 492, y: 933}]},
    {y: 969, lines: [{t: grxNames[2], x: 492, y: 969}]}
  ]
});

const axisCommon = {showgrid: false, zeroline: false, showline: true, linecolor: '#000', linewidth: 2,
  tickcolor: '#000', tickwidth: 1.5, automargin: false};

const layout = {
  width: W, height: H, margin: {l: 0, r: 0, t: 0, b: 0},
  paper_bgcolor: '#fff', plot_bgcolor: '#fff', showlegend: false,
  font: {family: SANS, color: '#000'},
  xaxis: Object.assign({}, axisCommon, {
    domain: topXDom, anchor: 'y', range: [15, 40], tick0: 15, dtick: 5, ticks: 'outside', ticklen: 9,
    minor: {dtick: 2.5, tick0: 15, ticks: 'outside', ticklen: 5, tickcolor: '#000', tickwidth: 1.5, showgrid: false},
    tickfont: {family: SANS, size: 27, color: '#000'}, ticklabelstandoff: -3,
    title: {text: "Longueur d'onde [nm]", font: {family: SANS, size: 33, color: '#000'}, standoff: 30}
  }),
  yaxis: Object.assign({}, axisCommon, {
    domain: topYDom, anchor: 'x', type: 'log', range: [-4, 0], tickmode: 'array',
    tickvals: topYTickVals, ticktext: topYTickText, ticks: 'outside', ticklen: 9,
    minor: {dtick: 'D1', ticks: 'outside', ticklen: 5, tickcolor: '#000', tickwidth: 1.5, showgrid: false},
    tickfont: {family: SANS, size: 27, color: '#000'}, ticklabelstandoff: 2,
    title: {text: 'Réflectivité' + NB.repeat(5) + ZW, font: {family: SANS, size: 33, color: '#000'}, standoff: 15}
  }),
  xaxis3: Object.assign({}, axisCommon, {
    overlaying: 'x', side: 'top', anchor: 'y', range: [15, 40], tick0: 15, dtick: 5,
    ticks: 'inside', ticklen: 9, showticklabels: false,
    minor: {dtick: 2.5, tick0: 15, ticks: 'inside', ticklen: 5, tickcolor: '#000', tickwidth: 1.5, showgrid: false}
  }),
  yaxis3: Object.assign({}, axisCommon, {
    overlaying: 'y', side: 'right', anchor: 'x', type: 'log', range: [-4, 0], tickmode: 'array',
    tickvals: topYTickVals, ticks: 'inside', ticklen: 9, showticklabels: false,
    minor: {dtick: 'D1', ticks: 'inside', ticklen: 5, tickcolor: '#000', tickwidth: 1.5, showgrid: false}
  }),
  xaxis2: Object.assign({}, axisCommon, {
    domain: botXDom, anchor: 'y2', range: [0, 20000], tickmode: 'array', tickvals: botXTickVals, ticktext: botXTickText,
    ticks: 'inside', ticklen: 7, mirror: 'allticks',
    minor: {dtick: 2500, tick0: 0, ticks: 'inside', ticklen: 7, tickcolor: '#000', tickwidth: 1.5, showgrid: false},
    tickfont: {family: SERIF, size: 31, color: '#000'}, ticklabelstandoff: 8,
    title: {text: ZW + NB + NB + 'θ [arcsec]', font: {family: SERIF, size: 38, color: '#000'}, standoff: 16}
  }),
  yaxis2: Object.assign({}, axisCommon, {
    domain: botYDom, anchor: 'x2', type: 'log', range: [0, 6], tickmode: 'array',
    tickvals: botYTickVals, ticktext: botYTickText, ticks: 'inside', ticklen: 12, mirror: 'allticks',
    minor: {dtick: 'D1', ticks: 'inside', ticklen: 7, tickcolor: '#000', tickwidth: 1.5, showgrid: false},
    tickfont: {family: SERIF, size: 31, color: '#000'}, ticklabelstandoff: 10,
    title: {text: 'Nombre de coups [u.a.]' + NB.repeat(3) + ZW, font: {family: SERIF, size: 40, color: '#000'}, standoff: 18}
  }),
  shapes: shapes,
  annotations: annotations
};

Plotly.newPlot('chart', traces, layout, {displayModeBar: false, staticPlot: true});
</script></body></html>
